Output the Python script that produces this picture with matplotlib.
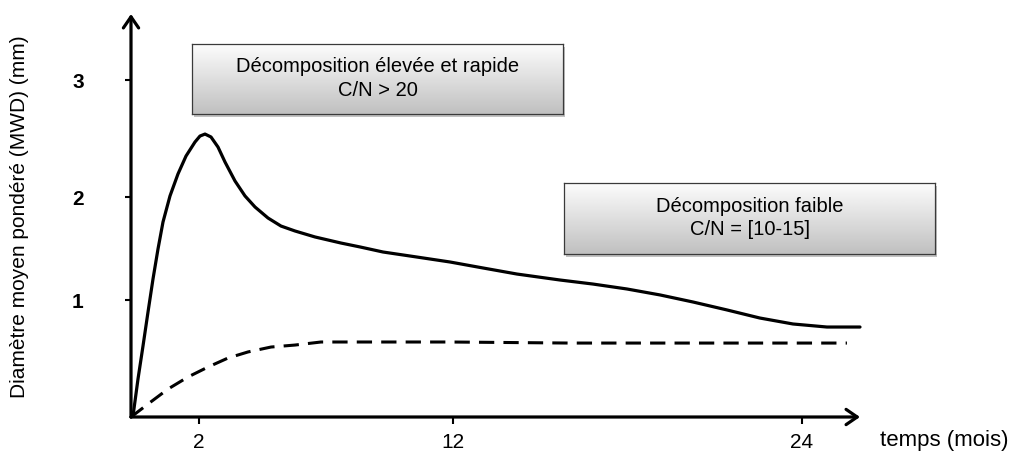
import numpy as np
import matplotlib
matplotlib.use("Agg")
import matplotlib.pyplot as plt
from matplotlib.patches import Rectangle

plt.rcParams['font.family'] = ['Liberation Sans', 'DejaVu Sans']

# schematic data (months, mm)
t_rapide = [0, 0.059, 0.206, 0.353, 0.500, 0.647, 0.794, 0.941, 1.147, 1.382, 1.618,
            1.882, 2.039, 2.236, 2.472, 2.748, 3.024, 3.417, 3.811, 4.205, 4.717,
            5.228, 5.780, 6.567, 7.591, 8.339, 9.244, 10.583, 11.882, 13.03, 14.20,
            15.68, 16.81, 17.98, 19.12, 20.25, 21.42, 22.55, 23.69, 24.86, 26.0]
mwd_rapide = [0, 0.009, 0.325, 0.607, 0.897, 1.204, 1.495, 1.757, 2.009, 2.197, 2.350,
              2.470, 2.521, 2.538, 2.513, 2.427, 2.299, 2.137, 2.009, 1.903, 1.796,
              1.718, 1.670, 1.612, 1.553, 1.515, 1.466, 1.417, 1.369, 1.311, 1.252,
              1.194, 1.155, 1.107, 1.049, 0.983, 0.915, 0.846, 0.795, 0.769, 0.769]

t_faible = [0, 0.118, 0.500, 1.088, 1.676, 2.354, 3.142, 3.929, 4.835, 5.780, 6.803,
            7.866, 11.882, 16.02, 25.55]
mwd_faible = [0, 0.026, 0.111, 0.239, 0.342, 0.427, 0.504, 0.556, 0.598, 0.615, 0.641,
              0.641, 0.641, 0.632, 0.632]

xticks = [2, 12, 24]
yticks = [1, 2, 3]

# the drawing is not to scale: piecewise axes
x_knots = [-10, 0, 2, 12, 24, 26, 40]
x_pos = [-209, 131, 199, 453, 802, 860, 1266]
y_knots = [-10, 0, 1, 2, 3, 3.564, 10]
y_pos = [-1170, 0, 117, 220, 337, 403, 1156]


def fwd(k, p):
    return lambda v: np.interp(v, k, p)


W, H = 1022, 456
fig = plt.figure(figsize=(W / 100, H / 100), dpi=100)
ax = fig.add_axes([131 / W, 38 / H, (860 - 131) / W, (418 - 15) / H])
ax.patch.set_visible(False)
ax.set_xscale('function', functions=(fwd(x_knots, x_pos), fwd(x_pos, x_knots)))
ax.set_yscale('function', functions=(fwd(y_knots, y_pos), fwd(y_pos, y_knots)))
ax.set_xlim(0, 26)
ax.set_ylim(0, 3.564)

ax.plot(t_rapide, mwd_rapide, color='black', lw=2.3, solid_capstyle='round',
        solid_joinstyle='round', clip_on=False)
ax.plot(t_faible, mwd_faible, color='black', lw=2.2, dashes=(5, 3), clip_on=False)

for s in ax.spines.values():
    s.set_visible(False)
arrow = dict(arrowstyle='->,head_length=0.8,head_width=0.55', lw=2.3, color='black',
             shrinkA=0, shrinkB=0)
ax.annotate('', xy=(1, 0), xytext=(0, 0), xycoords='axes fraction', arrowprops=arrow)
ax.annotate('', xy=(0, 1), xytext=(0, 0), xycoords='axes fraction', arrowprops=arrow)

ax.set_xticks(xticks)
ax.set_xticklabels([str(v) for v in xticks], fontsize=15)
ax.set_yticks(yticks)
ax.set_yticklabels([str(v) for v in yticks], fontsize=15, fontweight='bold')
ax.tick_params(axis='x', direction='out', length=5, width=1.5, pad=6)
ax.tick_params(axis='y', direction='out', length=4, width=1.5, pad=30)
ax.minorticks_off()

fig.text(20 / W, 1 - 217 / H, 'Diamètre moyen pondéré (MWD) (mm)', rotation=90,
         ha='center', va='center', fontsize=15)
fig.text(944 / W, 1 - 441 / H, 'temps (mois)', ha='center', va='center', fontsize=16)


def box(x0, y0, x1, y1, lines):
    # shadow
    fig.patches.append(Rectangle((x0 / W + 2 / W, 1 - (y1 + 3) / H), (x1 - x0) / W,
                                 (y1 - y0) / H, transform=fig.transFigure,
                                 facecolor='#9a9a9a', edgecolor='none', alpha=0.6,
                                 zorder=-1))
    bx = fig.add_axes([x0 / W, 1 - y1 / H, (x1 - x0) / W, (y1 - y0) / H])
    grad = np.linspace(0, 1, 100).reshape(-1, 1)
    bx.imshow(grad, cmap='gray_r', vmin=-0.05, vmax=4.2, aspect='auto',
              extent=(0, 1, 0, 1), origin='upper')
    bx.set_xticks([])
    bx.set_yticks([])
    for s in bx.spines.values():
        s.set_color('#3a3a3a')
        s.set_linewidth(0.9)
    bx.text(0.5, 0.52, lines, ha='center', va='center', fontsize=14.5,
            linespacing=1.3, transform=bx.transAxes)


box(192, 45, 563, 115, 'Décomposition élevée et rapide\nC/N > 20')
box(564, 184, 935, 255, 'Décomposition faible\nC/N = [10-15]')

fig.savefig('out.png', dpi=100)
